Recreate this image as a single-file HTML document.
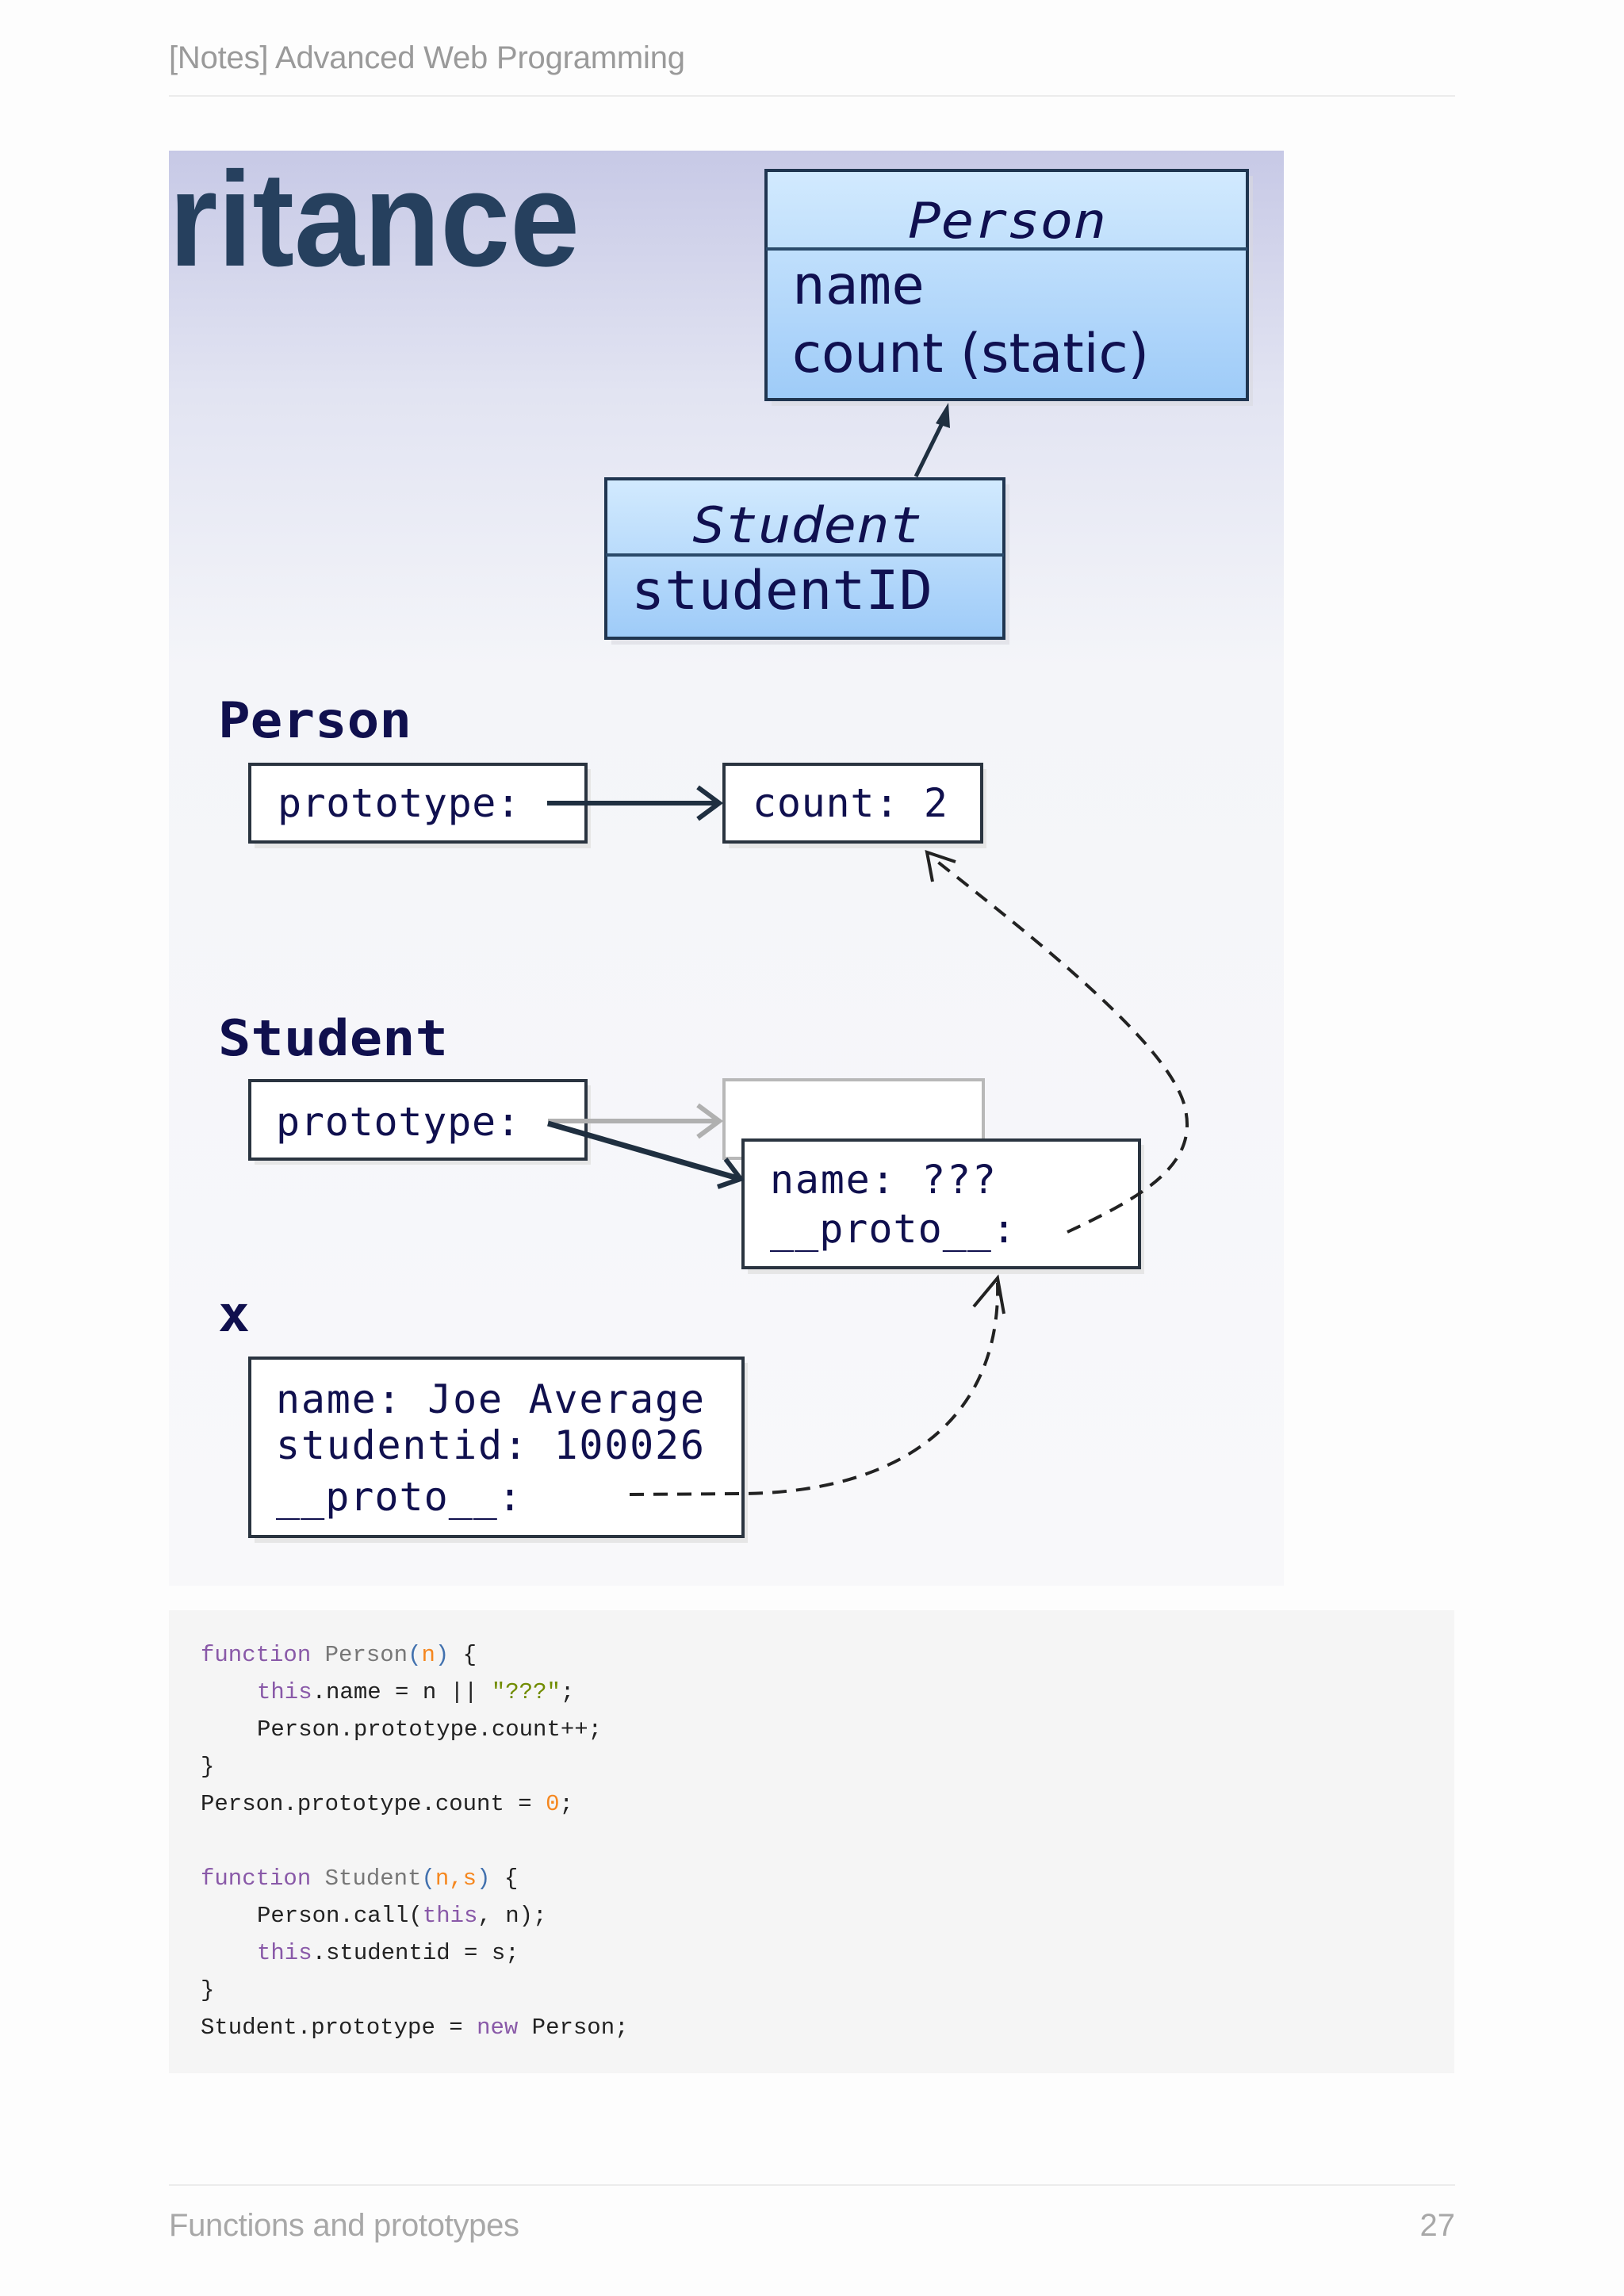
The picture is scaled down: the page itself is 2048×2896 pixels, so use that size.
<!DOCTYPE html>
<html><head><meta charset="utf-8"><style>
html,body{margin:0;padding:0;background:#fdfdfd;}
svg{display:block;}
</style></head><body>
<svg width="2048" height="2896" viewBox="0 0 2048 2896" xmlns="http://www.w3.org/2000/svg">
<defs>
<linearGradient id="bg" x1="0" y1="0" x2="0" y2="1">
<stop offset="0" stop-color="#c7c9e6"/>
<stop offset="0.17" stop-color="#e2e4f2"/>
<stop offset="0.36" stop-color="#f4f5f9"/>
<stop offset="1" stop-color="#f8f8fa"/>
</linearGradient>
<linearGradient id="bx" x1="0" y1="0" x2="0" y2="1">
<stop offset="0" stop-color="#d2eafe"/>
<stop offset="1" stop-color="#9ecbf8"/>
</linearGradient>
</defs>
<rect width="2048" height="2896" fill="#fdfdfd"/>
<text x="213" y="86" font-family="Liberation Sans, sans-serif" font-size="40" fill="#9a9a9a" textLength="651">[Notes] Advanced Web Programming</text>
<rect x="213" y="120" width="1622" height="2" fill="#ececec"/>

<rect x="213" y="190" width="1406" height="1810" fill="url(#bg)"/>
<text x="213" y="335" font-family="Liberation Sans, sans-serif" font-weight="bold" font-size="170" fill="#26405e" textLength="518" lengthAdjust="spacingAndGlyphs">ritance</text>

<!-- Person UML -->
<rect x="973" y="222" width="607" height="290" fill="#d8d8e0" opacity="0.6"/>
<rect x="966" y="215" width="607" height="289" fill="url(#bx)" stroke="#1f3550" stroke-width="4"/>
<line x1="966" y1="314" x2="1573" y2="314" stroke="#2a4a6a" stroke-width="4"/>
<text x="1270" y="300" text-anchor="middle" font-family="DejaVu Sans Mono, monospace" font-style="italic" font-size="62" fill="#101050" textLength="250" lengthAdjust="spacingAndGlyphs">Person</text>
<text x="999" y="383" font-family="DejaVu Sans Mono, monospace" font-size="68" fill="#101050" textLength="167" lengthAdjust="spacingAndGlyphs">name</text>
<text x="999" y="469" font-family="DejaVu Sans, sans-serif" font-size="68" fill="#101050" textLength="450" lengthAdjust="spacingAndGlyphs">count (static)</text>

<line x1="1155" y1="601" x2="1190" y2="530" stroke="#1f2f40" stroke-width="5"/>
<polygon points="1196,508 1198,540 1180,534" fill="#1f2f40"/>

<!-- Student UML -->
<rect x="771" y="611" width="502" height="202" fill="#d8d8e0" opacity="0.6"/>
<rect x="764" y="604" width="502" height="201" fill="url(#bx)" stroke="#1f3550" stroke-width="4"/>
<line x1="764" y1="700" x2="1266" y2="700" stroke="#2a4a6a" stroke-width="4"/>
<text x="1018" y="684" text-anchor="middle" font-family="DejaVu Sans Mono, monospace" font-style="italic" font-size="62" fill="#101050" textLength="290" lengthAdjust="spacingAndGlyphs">Student</text>
<text x="796" y="768" font-family="DejaVu Sans Mono, monospace" font-size="68" fill="#101050" textLength="380" lengthAdjust="spacingAndGlyphs">studentID</text>

<g font-family="DejaVu Sans Mono, monospace" fill="#10104e">
<text x="275" y="930" font-size="62" font-weight="bold" textLength="244" lengthAdjust="spacingAndGlyphs">Person</text>
<text x="275" y="1331" font-size="62" font-weight="bold" textLength="290" lengthAdjust="spacingAndGlyphs">Student</text>
<text x="275" y="1679" font-size="62" font-weight="bold" textLength="40" lengthAdjust="spacingAndGlyphs">x</text>
</g>

<!-- boxes shadows -->
<g fill="#e6e6e6">
<rect x="321" y="970" width="424" height="100"/>
<rect x="919" y="970" width="325" height="100"/>
<rect x="321" y="1369" width="424" height="100"/>
<rect x="943" y="1444" width="500" height="163"/>
<rect x="321" y="1719" width="622" height="227"/>
</g>
<g fill="#fff" stroke="#2a3440" stroke-width="4">
<rect x="315" y="964" width="424" height="98"/>
<rect x="913" y="964" width="325" height="98"/>
<rect x="315" y="1363" width="424" height="99"/>
<rect x="913" y="1362" width="327" height="99" stroke="#b8b8b8"/>
<rect x="937" y="1438" width="500" height="161"/>
<rect x="315" y="1713" width="622" height="225"/>
</g>

<g font-family="DejaVu Sans Mono, monospace" fill="#10104e" font-size="50" lengthAdjust="spacingAndGlyphs">
<text x="350" y="1030" textLength="306">prototype:</text>
<text x="949" y="1030" textLength="246">count: 2</text>
<text x="348" y="1432" textLength="308">prototype:</text>
<text x="971" y="1505" textLength="285">name: ???</text>
<text x="971" y="1567" textLength="310">__proto__:</text>
<text x="348" y="1782" textLength="540">name: Joe Average</text>
<text x="348" y="1840" textLength="540">studentid: 100026</text>
<text x="348" y="1905" textLength="310">__proto__:</text>
</g>

<!-- arrows -->
<line x1="690" y1="1013" x2="906" y2="1013" stroke="#1f2f40" stroke-width="6"/>
<polyline points="880,993 907,1013 880,1033" fill="none" stroke="#1f2f40" stroke-width="6"/>
<line x1="691" y1="1414" x2="908" y2="1414" stroke="#b0b0b0" stroke-width="6"/>
<polyline points="880,1394 907,1414 880,1434" fill="none" stroke="#b0b0b0" stroke-width="6"/>
<line x1="691" y1="1417" x2="930" y2="1486" stroke="#1f2f40" stroke-width="7"/>
<polyline points="915,1462 934,1487 905,1497" fill="none" stroke="#1f2f40" stroke-width="6"/>

<g fill="none" stroke="#222" stroke-width="4" stroke-dasharray="18,12">
<path d="M794 1885 L941 1884 C1150 1880 1262 1780 1258 1618"/>
<path d="M1346 1554 C1440 1510 1510 1470 1495 1400 C1480 1320 1300 1180 1176 1082"/>
</g>
<polyline points="1228,1648 1258,1612 1266,1657" fill="none" stroke="#222" stroke-width="4"/>
<polyline points="1176,1112 1169,1075 1205,1087" fill="none" stroke="#222" stroke-width="4"/>

<!-- code -->
<rect x="213" y="2031" width="1621" height="584" fill="#f5f5f5"/>
<g font-family="Liberation Mono, monospace" font-size="29" fill="#222">
<text x="253" y="2095"><tspan fill="#8959a8">function</tspan> <tspan fill="#777">Person</tspan><tspan fill="#4271ae">(</tspan><tspan fill="#f5871f">n</tspan><tspan fill="#4271ae">)</tspan> {</text>
<text x="324" y="2142"><tspan fill="#8959a8">this</tspan>.name = n || <tspan fill="#718c00">"???"</tspan>;</text>
<text x="324" y="2189">Person.prototype.count++;</text>
<text x="253" y="2236">}</text>
<text x="253" y="2283">Person.prototype.count = <tspan fill="#f5871f">0</tspan>;</text>
<text x="253" y="2377"><tspan fill="#8959a8">function</tspan> <tspan fill="#777">Student</tspan><tspan fill="#4271ae">(</tspan><tspan fill="#f5871f">n,s</tspan><tspan fill="#4271ae">)</tspan> {</text>
<text x="324" y="2424">Person.call(<tspan fill="#8959a8">this</tspan>, n);</text>
<text x="324" y="2471"><tspan fill="#8959a8">this</tspan>.studentid = s;</text>
<text x="253" y="2518">}</text>
<text x="253" y="2565">Student.prototype = <tspan fill="#8959a8">new</tspan> Person;</text>
</g>

<rect x="213" y="2755" width="1622" height="2" fill="#ececec"/>
<text x="213" y="2820" font-family="Liberation Sans, sans-serif" font-size="40" fill="#a8a8a8" textLength="442">Functions and prototypes</text>
<text x="1835" y="2820" text-anchor="end" font-family="Liberation Sans, sans-serif" font-size="40" fill="#a8a8a8">27</text>
</svg>
</body></html>
